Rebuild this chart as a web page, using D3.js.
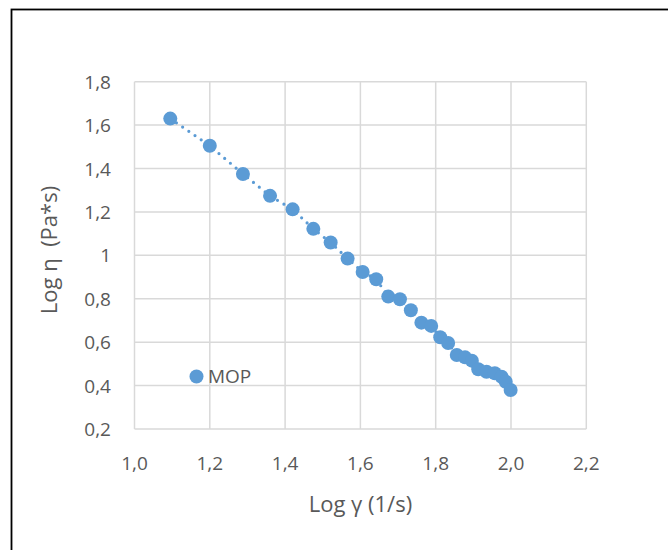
<!DOCTYPE html>
<html>
<head>
<meta charset="utf-8">
<script src="https://cdn.jsdelivr.net/npm/d3@7"></script>
<style>
  html, body { margin: 0; padding: 0; background: #fff; }
  svg { display: block; font-family: "Open Sans", "Liberation Sans", sans-serif; }
</style>
</head>
<body>
<svg width="668" height="550"></svg>
<script>
// log shear rate (1/s) and log viscosity (Pa*s)
const logGamma = [1.095, 1.200, 1.288, 1.360, 1.420, 1.475, 1.521, 1.566, 1.606, 1.642,
    1.674, 1.705, 1.734, 1.762, 1.788, 1.812, 1.833, 1.856, 1.878, 1.896,
    1.913, 1.935, 1.957, 1.975, 1.986, 1.999];
const logEta = [1.630, 1.505, 1.375, 1.274, 1.212, 1.122, 1.059, 0.985, 0.923, 0.890,
    0.810, 0.798, 0.747, 0.690, 0.675, 0.623, 0.596, 0.541, 0.530, 0.515,
    0.475, 0.464, 0.457, 0.441, 0.418, 0.380];
const xTicks = [1.0, 1.2, 1.4, 1.6, 1.8, 2.0, 2.2];
const yTicks = [0.2, 0.4, 0.6, 0.8, 1.0, 1.2, 1.4, 1.6, 1.8];
const seriesName = "MOP";

const blue = "#5B9BD5";
const grid = "#D9D9D9";
const textCol = "#595959";

const svg = d3.select("svg");

// outer frame (runs off the right and bottom edge)
svg.append("rect")
    .attr("x", 11.5).attr("y", 9.5)
    .attr("width", 700).attr("height", 600)
    .attr("fill", "none")
    .attr("stroke", "#000")
    .attr("stroke-width", 1.8);

const x = d3.scaleLinear().domain([1.0, 2.2]).range([134.5, 586.3]);
const y = d3.scaleLinear().domain([0.2, 1.8]).range([429, 81.7]);

const fmt = d => d3.format(".1f")(d).replace(".", ",");
const fmtY = d => d === 1 ? "1" : fmt(d);

// gridlines
svg.append("g").selectAll("line")
    .data(xTicks).join("line")
    .attr("x1", d => x(d)).attr("x2", d => x(d))
    .attr("y1", y(1.8)).attr("y2", y(0.2))
    .attr("stroke", grid).attr("stroke-width", 1.5);

svg.append("g").selectAll("line")
    .data(yTicks).join("line")
    .attr("x1", x(1.0)).attr("x2", x(2.2))
    .attr("y1", d => y(d)).attr("y2", d => y(d))
    .attr("stroke", grid).attr("stroke-width", 1.5);

// tick labels
svg.append("g").selectAll("text")
    .data(xTicks).join("text")
    .attr("x", d => x(d))
    .attr("y", 470)
    .attr("text-anchor", "middle")
    .attr("fill", textCol)
    .style("font-size", "19px")
    .text(fmt);

svg.append("g").selectAll("text")
    .data(yTicks).join("text")
    .attr("x", 111)
    .attr("y", d => y(d) + 7)
    .attr("text-anchor", "end")
    .attr("fill", textCol)
    .style("font-size", "19px")
    .text(fmtY);

// axis titles
svg.append("text")
    .attr("x", x(1.6))
    .attr("y", 511.5)
    .attr("text-anchor", "middle")
    .attr("fill", textCol)
    .style("font-size", "22px")
    .text("Log γ (1/s)");

svg.append("text")
    .attr("transform", "translate(57, 250) rotate(-90)")
    .attr("text-anchor", "middle")
    .attr("fill", textCol)
    .style("font-size", "22px")
    .style("white-space", "pre")
    .text("Log η  (Pa*s)");

const pts = logGamma.map((g, i) => [g, logEta[i]]);

// round-dot connecting line
svg.append("path")
    .datum(pts)
    .attr("d", d3.line().x(d => x(d[0])).y(d => y(d[1])))
    .attr("fill", "none")
    .attr("stroke", blue)
    .attr("stroke-width", 3.2)
    .attr("stroke-linecap", "round")
    .attr("stroke-dasharray", "0 7.5");

svg.append("g").selectAll("circle")
    .data(pts).join("circle")
    .attr("cx", d => x(d[0]))
    .attr("cy", d => y(d[1]))
    .attr("r", 7)
    .attr("fill", blue);

// legend
svg.append("circle")
    .attr("cx", 196.5).attr("cy", 376.5).attr("r", 7)
    .attr("fill", blue);
svg.append("text")
    .attr("x", 208).attr("y", 383)
    .attr("fill", textCol)
    .style("font-size", "19px")
    .text(seriesName);
</script>
</body>
</html>
